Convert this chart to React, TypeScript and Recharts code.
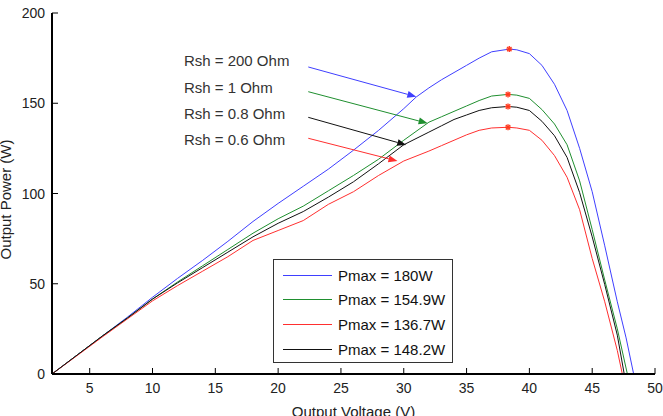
import {
  ComposedChart,
  Line,
  ReferenceDot,
  ReferenceLine,
  Scatter,
  XAxis,
  YAxis,
} from "recharts";

const FONT = "'Liberation Sans', Arial, sans-serif";

const xTicks = [5, 10, 15, 20, 25, 30, 35, 40, 45, 50];
const yTicks = [0, 50, 100, 150, 200];

// Rsh = 200 Ohm (blue)
const rsh200Volts = [2, 4, 6, 8, 10, 12, 14, 16, 18, 20, 22, 24, 26, 28, 30, 31, 32, 33, 34, 35, 36, 37, 38.4, 39, 40, 41, 42, 43, 44, 45, 46, 47, 47.7, 48.3];
const rsh200Power = [0, 10.5, 21, 31.5, 42.5, 53, 63, 73.5, 84.5, 94.5, 104, 113.5, 124, 135, 147, 153.5, 158.5, 163, 167, 171, 175, 178.5, 180, 179.6, 177.5, 171, 160.5, 146, 125, 101, 71, 40, 20, 0];

// Rsh = 1 Ohm (green)
const rsh1Volts = [2, 4, 6, 8, 10, 12, 14, 16, 18, 20, 22, 24, 26, 28, 30, 32, 33, 34, 35, 36, 37, 38.3, 39, 40, 41, 42, 43, 44, 45, 46, 47, 47.8];
const rsh1Power = [0, 10.5, 21, 31, 41.5, 51, 60, 69, 78, 86, 93, 101.5, 110, 119, 129.5, 139.5, 142.5, 145.5, 148.5, 151.5, 154, 154.9, 154.5, 152.7, 146.5, 138.5, 127, 107, 80, 52, 25, 0];

// Rsh = 0.8 Ohm (black)
const rsh08Volts = [2, 4, 6, 8, 10, 12, 14, 16, 18, 20, 22, 24, 26, 28, 30, 32, 33, 34, 35, 36, 37, 38.3, 39, 40, 41, 42, 43, 44, 45, 46, 47, 47.55];
const rsh08Power = [0, 10.5, 21, 31, 41.5, 50.5, 59, 67.5, 76, 83.5, 90, 98, 106.5, 116.5, 127, 134, 137.5, 141, 143.5, 146, 147.5, 148.2, 147.8, 146, 140, 132, 120, 100.5, 76, 49.5, 21.5, 0];

// Rsh = 0.6 Ohm (red)
const rsh06Volts = [2, 4, 6, 8, 10, 12, 14, 16, 18, 20, 22, 24, 26, 28, 30, 32, 33, 34, 35, 36, 37, 38.3, 39, 40, 41, 42, 43, 44, 45, 46, 47, 47.4];
const rsh06Power = [0, 10.2, 20.5, 30.5, 40.5, 49, 57, 65, 74, 79.5, 85, 94, 101, 110, 118, 123.5, 126.5, 129.5, 132.5, 135, 136.3, 136.7, 136.3, 135, 129.5, 121, 109, 91, 64, 40, 13, 0];

const peakVolts = [38.4, 38.3, 38.3, 38.3];
const peakPower = [180, 154.9, 148.2, 136.7];

const pmaxLabels = ["Pmax = 180W", "Pmax = 154.9W", "Pmax = 136.7W", "Pmax = 148.2W"];
const rshLabels = ["Rsh = 200 Ohm", "Rsh = 1 Ohm", "Rsh = 0.8 Ohm", "Rsh = 0.6 Ohm"];
const rshLabelAt = [
  [12.5, 173.4],
  [12.5, 158.4],
  [12.5, 144],
  [12.5, 129.6],
];
const arrowFrom = [
  [22.4, 170.1],
  [22.4, 156.4],
  [22.4, 142.2],
  [22.4, 130.6],
];
const arrowTo = [
  [31.0, 153.6],
  [31.9, 138.9],
  [30.2, 126.9],
  [29.5, 118],
];

const BLUE = "#3f3fff";
const GREEN = "#1f8f2f";
const RED = "#ff2f2f";
const BLACK = "#111111";

const arrowColors = [BLUE, GREEN, BLACK, RED];

const toPoints = (volts: number[], power: number[]) =>
  volts.map((v, i) => ({ v, p: power[i] }));

// legend order: blue, green, red, black
const series = [
  { name: "rsh200", color: BLUE, data: toPoints(rsh200Volts, rsh200Power), legend: pmaxLabels[0] },
  { name: "rsh1", color: GREEN, data: toPoints(rsh1Volts, rsh1Power), legend: pmaxLabels[1] },
  { name: "rsh06", color: RED, data: toPoints(rsh06Volts, rsh06Power), legend: pmaxLabels[2] },
  { name: "rsh08", color: BLACK, data: toPoints(rsh08Volts, rsh08Power), legend: pmaxLabels[3] },
];

const peaks = toPoints(peakVolts, peakPower);

const tickText = { fontFamily: FONT, fontSize: 14, fill: "#222" };

const BottomTick = (p: any) => (
  <g>
    <line x1={p.x} y1={p.y} x2={p.x} y2={p.y - 6} stroke="#000" />
    <text x={p.x} y={p.y + 19} textAnchor="middle" {...tickText}>
      {p.payload.value}
    </text>
  </g>
);

const LeftTick = (p: any) => (
  <g>
    <line x1={p.x} y1={p.y} x2={p.x + 6} y2={p.y} stroke="#000" />
    <text x={p.x - 7} y={p.y + 5} textAnchor="end" {...tickText}>
      {p.payload.value}
    </text>
  </g>
);

const TopTick = (p: any) => <line x1={p.x} y1={p.y} x2={p.x} y2={p.y + 6} stroke="#000" />;
const RightTick = (p: any) => <line x1={p.x} y1={p.y} x2={p.x - 6} y2={p.y} stroke="#000" />;

const Star = (p: any) => {
  const { cx, cy } = p;
  const r = 3;
  return (
    <g stroke="#ff3b1f" strokeWidth={1.4}>
      <line x1={cx - r} y1={cy} x2={cx + r} y2={cy} />
      <line x1={cx} y1={cy - r} x2={cx} y2={cy + r} />
      <line x1={cx - 2.2} y1={cy - 2.2} x2={cx + 2.2} y2={cy + 2.2} />
      <line x1={cx - 2.2} y1={cy + 2.2} x2={cx + 2.2} y2={cy - 2.2} />
    </g>
  );
};

const makeArrow = (color: string) => (p: any) => {
  const { x1, y1, x2, y2 } = p;
  const a = Math.atan2(y2 - y1, x2 - x1);
  const len = 9;
  const half = 3.5;
  const bx = x2 - len * Math.cos(a);
  const by = y2 - len * Math.sin(a);
  const pts = `${x2},${y2} ${bx - half * Math.sin(a)},${by + half * Math.cos(a)} ${bx + half * Math.sin(a)},${by - half * Math.cos(a)}`;
  return (
    <g>
      <line x1={x1} y1={y1} x2={bx} y2={by} stroke={color} strokeWidth={1} />
      <polygon points={pts} fill={color} />
    </g>
  );
};

const makeLabel = (text: string) => (p: any) => (
  <text x={p.cx} y={p.cy + 5} fontFamily={FONT} fontSize={15} fill="#333">
    {text}
  </text>
);

function LegendBox() {
  return (
    <div
      style={{
        position: "absolute",
        left: 273,
        top: 259,
        width: 180,
        height: 104,
        border: "1px solid #333",
        background: "#fff",
        fontFamily: FONT,
        fontSize: 15,
        color: "#111",
        boxSizing: "border-box",
      }}
    >
      {series.map((s, i) => (
        <div
          key={s.name}
          style={{
            position: "absolute",
            left: 9,
            top: 5 + i * 24.7,
            height: 20,
            display: "flex",
            alignItems: "center",
            whiteSpace: "nowrap",
          }}
        >
          <span style={{ display: "inline-block", width: 49, height: 1, background: s.color, marginRight: 6 }} />
          <span>{s.legend}</span>
        </div>
      ))}
    </div>
  );
}

export default function App() {
  return (
    <div style={{ position: "absolute", left: 0, top: 0, width: 663, height: 416, background: "#fff" }}>
      <ComposedChart width={663} height={416} margin={{ top: 13, right: 8, bottom: 0, left: 0 }}>
        <XAxis
          xAxisId="bottom"
          dataKey="v"
          type="number"
          domain={[2, 50]}
          ticks={xTicks}
          allowDataOverflow
          height={42}
          tickSize={0}
          tickMargin={0}
          tickLine={false}
          tick={BottomTick}
          axisLine={{ stroke: "#000", strokeWidth: 2 }}
          label={{
            content: (lp: any) => (
              <text
                x={lp.viewBox.x + lp.viewBox.width / 2}
                y={lp.viewBox.y + 43}
                textAnchor="middle"
                fontFamily={FONT}
                fontSize={15}
                fill="#222"
              >
                Output Voltage (V)
              </text>
            ),
          }}
        />
        <XAxis
          xAxisId="top"
          orientation="top"
          dataKey="v"
          type="number"
          domain={[2, 50]}
          ticks={xTicks}
          allowDataOverflow
          height={0}
          tickSize={0}
          tickMargin={0}
          tickLine={false}
          tick={TopTick}
          axisLine={{ stroke: "#444", strokeWidth: 1 }}
        />
        <YAxis
          yAxisId="left"
          dataKey="p"
          type="number"
          domain={[0, 200]}
          ticks={yTicks}
          allowDataOverflow
          width={52}
          tickSize={0}
          tickMargin={0}
          tickLine={false}
          tick={LeftTick}
          axisLine={{ stroke: "#000", strokeWidth: 2 }}
          label={{
            content: (lp: any) => {
              const cx = lp.viewBox.x + 11;
              const cy = lp.viewBox.y + lp.viewBox.height / 2 + 6;
              return (
                <text
                  x={cx}
                  y={cy}
                  transform={`rotate(-90 ${cx} ${cy})`}
                  textAnchor="middle"
                  fontFamily={FONT}
                  fontSize={15}
                  fill="#222"
                >
                  Output Power (W)
                </text>
              );
            },
          }}
        />
        <YAxis
          yAxisId="right"
          orientation="right"
          dataKey="p"
          type="number"
          domain={[0, 200]}
          ticks={yTicks}
          allowDataOverflow
          width={0}
          tickSize={0}
          tickMargin={0}
          tickLine={false}
          tick={RightTick}
          axisLine={{ stroke: "#444", strokeWidth: 1 }}
        />

        {series.map((s) => (
          <Line
            key={s.name}
            xAxisId="bottom"
            yAxisId="left"
            data={s.data}
            dataKey="p"
            type="linear"
            stroke={s.color}
            strokeWidth={1}
            dot={false}
            activeDot={false}
            isAnimationActive={false}
          />
        ))}

        <Scatter
          xAxisId="bottom"
          yAxisId="left"
          data={peaks}
          dataKey="p"
          shape={Star}
          isAnimationActive={false}
        />

        {arrowFrom.map((from, i) => (
          <ReferenceLine
            key={`arrow-${i}`}
            xAxisId="bottom"
            yAxisId="left"
            segment={[
              { x: from[0], y: from[1] },
              { x: arrowTo[i][0], y: arrowTo[i][1] },
            ]}
            shape={makeArrow(arrowColors[i])}
          />
        ))}

        {rshLabels.map((t, i) => (
          <ReferenceDot
            key={`lab-${i}`}
            xAxisId="bottom"
            yAxisId="left"
            x={rshLabelAt[i][0]}
            y={rshLabelAt[i][1]}
            r={0}
            shape={makeLabel(t)}
          />
        ))}
      </ComposedChart>
      <LegendBox />
    </div>
  );
}
